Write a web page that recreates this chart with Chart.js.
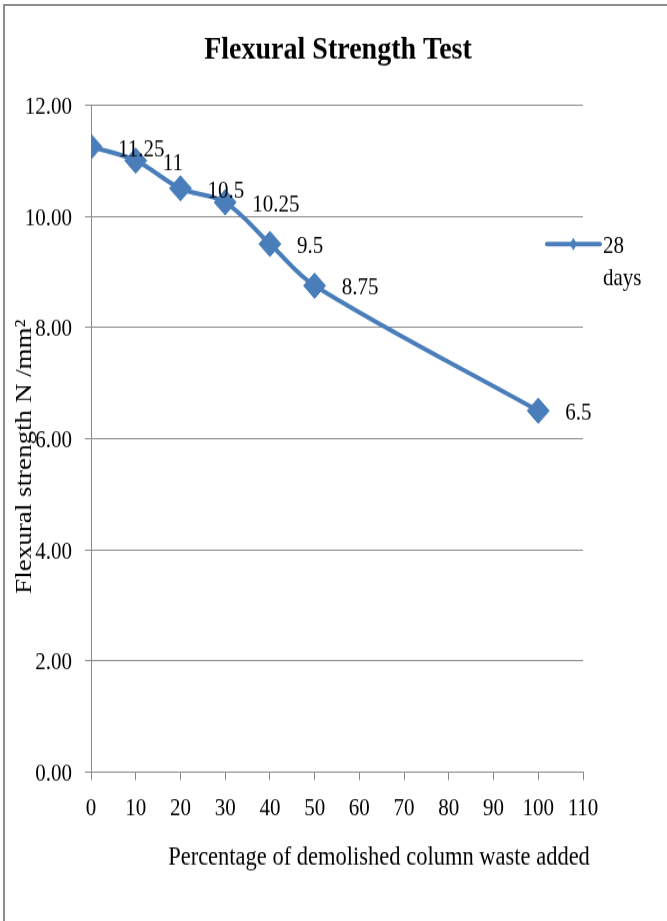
<!DOCTYPE html>
<html>
<head>
<meta charset="utf-8">
<title>Flexural Strength Test</title>
<script src="https://cdn.jsdelivr.net/npm/chart.js@4/dist/chart.umd.min.js"></script>
<style>
  html, body { margin: 0; padding: 0; background: #fff; }
  #page { position: relative; width: 667px; height: 921px; overflow: hidden; background: #fff; }
  /* the chart is laid out on a 667x801 canvas and stretched to the full page height */
  #wrap { position: absolute; left: 0; top: 0; width: 667px; height: 801px;
          transform: scaleY(1.14981); transform-origin: 0 0; }
  #frame { position: absolute; left: 3px; top: 4px; right: -10px; bottom: -10px;
           border-left: 2px solid #8c8c8c; border-top: 2px solid #8c8c8c; pointer-events: none; }
</style>
</head>
<body>
<div id="page">
  <div id="wrap"><canvas id="chart"></canvas></div>
  <div id="frame"></div>
</div>
<script>
// ---- data ----
const percentAdded = [0, 10, 20, 30, 40, 50, 100];          // % demolished column waste
const strength28 = [11.25, 11, 10.5, 10.25, 9.5, 8.75, 6.5]; // N/mm², 28 days
const seriesName = ['28', 'days'];
const xTickRange = [0, 110, 10];   // min, max, step
const yTickRange = [0, 12, 2];     // min, max, step

const chartTitle = 'Flexural Strength Test';
const xTitle = 'Percentage of demolished column waste added';
const yTitle = 'Flexural strength N /mm\u00B2';

const SERIF = "'Liberation Serif', 'Times New Roman', serif";
const BLUE = '#4a7ebb';
const GRID = '#888888';

// titles, point value labels and the legend key
const decorations = {
  id: 'decorations',
  afterDatasetsDraw(chart) {
    const ctx = chart.ctx;
    const meta = chart.getDatasetMeta(0);
    ctx.save();
    ctx.font = '21px ' + SERIF;
    ctx.fillStyle = '#000';
    ctx.textAlign = 'left';
    ctx.textBaseline = 'middle';
    meta.data.forEach((pt, i) => {
      ctx.fillText(String(strength28[i]), pt.x + 27, pt.y + 2.5);
    });
    ctx.restore();
  },
  afterDraw(chart) {
    const ctx = chart.ctx;
    ctx.save();
    ctx.fillStyle = '#000';

    // chart title
    ctx.font = 'bold 28px ' + SERIF;
    ctx.textAlign = 'center';
    ctx.textBaseline = 'alphabetic';
    ctx.fillText(chartTitle, 338, 50.7);

    // x axis title
    ctx.font = '22.5px ' + SERIF;
    ctx.textAlign = 'center';
    ctx.fillText(xTitle, 379, 752);

    // y axis title (rotated)
    ctx.save();
    ctx.translate(31, 397);
    ctx.rotate(-Math.PI / 2);
    ctx.font = '23.5px ' + SERIF;
    ctx.textAlign = 'center';
    ctx.textBaseline = 'alphabetic';
    ctx.fillText(yTitle, 0, 0);
    ctx.restore();

    // legend key
    const ly = 212.2;
    ctx.strokeStyle = BLUE;
    ctx.lineWidth = 4;
    ctx.lineCap = 'round';
    ctx.beginPath();
    ctx.moveTo(547, ly);
    ctx.lineTo(600, ly);
    ctx.stroke();
    ctx.fillStyle = BLUE;
    ctx.beginPath();
    ctx.moveTo(573.3, ly - 5.5);
    ctx.lineTo(577, ly);
    ctx.lineTo(573.3, ly + 5.5);
    ctx.lineTo(569.6, ly);
    ctx.closePath();
    ctx.fill();

    ctx.fillStyle = '#000';
    ctx.font = '21px ' + SERIF;
    ctx.textAlign = 'left';
    ctx.textBaseline = 'alphabetic';
    ctx.fillText(seriesName[0], 603, 220.3);
    ctx.fillText(seriesName[1], 603, 247.8);
    ctx.restore();
  }
};

const points = percentAdded.map((x, i) => ({ x: x, y: strength28[i] }));

new Chart(document.getElementById('chart'), {
  type: 'line',
  data: {
    datasets: [{
      label: seriesName.join(' '),
      data: points,
      borderColor: BLUE,
      backgroundColor: BLUE,
      borderWidth: 4,
      tension: 0.35,
      pointStyle: 'rectRot',
      pointRadius: 11,
      pointHoverRadius: 11,
      pointBorderWidth: 1,
      pointBackgroundColor: BLUE,
      pointBorderColor: BLUE,
      fill: false
    }]
  },
  options: {
    responsive: true,
    maintainAspectRatio: false,
    animation: false,
    layout: { padding: { top: 91.3, left: 0, right: 84, bottom: 89.5 } },
    plugins: {
      legend: { display: false },
      title: { display: false },
      tooltip: { enabled: false }
    },
    scales: {
      x: {
        type: 'linear',
        min: xTickRange[0],
        max: xTickRange[1],
        afterFit: (scale) => { scale.height = 40; },
        ticks: {
          stepSize: xTickRange[2],
          padding: 12,
          color: '#000',
          font: { family: SERIF, size: 21 },
          maxRotation: 0,
          autoSkip: false
        },
        grid: { drawOnChartArea: false, drawTicks: true, tickLength: 7, color: GRID, lineWidth: 1 },
        border: { display: true, color: GRID, width: 1 }
      },
      y: {
        type: 'linear',
        min: yTickRange[0],
        max: yTickRange[1],
        afterFit: (scale) => { scale.width = 91; },
        ticks: {
          stepSize: yTickRange[2],
          padding: 13,
          labelOffset: 2,
          color: '#000',
          font: { family: SERIF, size: 21 },
          callback: (v) => Number(v).toFixed(2)
        },
        grid: { drawOnChartArea: true, drawTicks: true, tickLength: 6, color: GRID, lineWidth: 1 },
        border: { display: true, color: GRID, width: 1 }
      }
    }
  },
  plugins: [decorations]
});
</script>
</body>
</html>
